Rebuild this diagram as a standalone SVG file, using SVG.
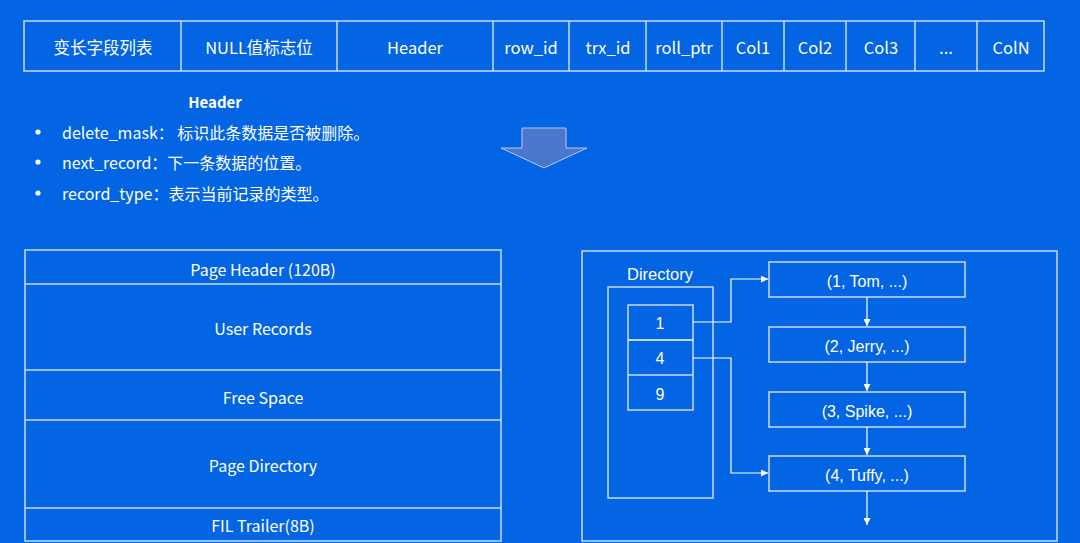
<svg xmlns="http://www.w3.org/2000/svg" width="1080" height="543" viewBox="0 0 1080 543">
<defs>
<style>
.bg{fill:#0364e4}
.box{fill:none;stroke:#c9dbf7;stroke-width:1.5}
.t{font-family:"Noto Sans CJK SC","Noto Sans",sans-serif;font-size:16px;fill:#ffffff;text-anchor:middle;dominant-baseline:central}
.top{font-size:16.5px}
.ta{font-family:"Liberation Sans",Arial,sans-serif;font-size:16px;fill:#ffffff;text-anchor:middle;dominant-baseline:central}
.tl{font-family:"Noto Sans CJK SC","Noto Sans",sans-serif;font-size:16px;fill:#ffffff;dominant-baseline:central}
.line{fill:none;stroke:#ffffff;stroke-width:1.2}
</style>
<marker id="ah" viewBox="0 0 10 10" refX="10" refY="5" markerWidth="7" markerHeight="7" orient="auto" markerUnits="userSpaceOnUse">
<path d="M0,0 L10,5 L0,10 z" fill="#ffffff"/>
</marker>
</defs>
<rect class="bg" x="0" y="0" width="1080" height="543"/>

<g id="row-format">
<rect class="box" x="24" y="21" width="1020" height="50"/>
<line class="box" x1="181" y1="21" x2="181" y2="71"/>
<line class="box" x1="337" y1="21" x2="337" y2="71"/>
<line class="box" x1="493" y1="21" x2="493" y2="71"/>
<line class="box" x1="569" y1="21" x2="569" y2="71"/>
<line class="box" x1="646" y1="21" x2="646" y2="71"/>
<line class="box" x1="722" y1="21" x2="722" y2="71"/>
<line class="box" x1="784" y1="21" x2="784" y2="71"/>
<line class="box" x1="846" y1="21" x2="846" y2="71"/>
<line class="box" x1="915" y1="21" x2="915" y2="71"/>
<line class="box" x1="977" y1="21" x2="977" y2="71"/>
<text class="t top" x="103" y="47">变长字段列表</text>
<text class="t top" x="259" y="47">NULL值标志位</text>
<text class="t top" x="415" y="47">Header</text>
<text class="t top" x="531" y="47">row_id</text>
<text class="t top" x="608" y="47">trx_id</text>
<text class="t top" x="684" y="47">roll_ptr</text>
<text class="t top" x="753" y="47">Col1</text>
<text class="t top" x="815" y="47">Col2</text>
<text class="t top" x="881" y="47">Col3</text>
<text class="t top" x="946" y="47">...</text>
<text class="t top" x="1011" y="47">ColN</text>
</g>

<g id="header-desc">
<text class="t" x="215" y="101" style="font-weight:bold;font-size:15px">Header</text>
<circle cx="38" cy="132" r="2.6" fill="#ffffff"/>
<circle cx="38" cy="162" r="2.6" fill="#ffffff"/>
<circle cx="38" cy="193" r="2.6" fill="#ffffff"/>
<text class="tl" x="62" y="132">delete_mask： 标识此条数据是否被删除。</text>
<text class="tl" x="62" y="162">next_record：下一条数据的位置。</text>
<text class="tl" x="62" y="193">record_type：表示当前记录的类型。</text>
</g>

<g id="down-arrow">
<polygon points="522,128 566,128 566,148 587,148 544,168 501,148 522,148" fill="#4a78cc" stroke="#b4c8ee" stroke-width="1"/>
</g>

<g id="page-layout">
<rect class="box" x="25" y="250" width="476" height="291"/>
<line class="box" x1="25" y1="284" x2="501" y2="284"/>
<line class="box" x1="25" y1="370" x2="501" y2="370"/>
<line class="box" x1="25" y1="420" x2="501" y2="420"/>
<line class="box" x1="25" y1="508" x2="501" y2="508"/>
<text class="t" x="263" y="269">Page Header (120B)</text>
<text class="t" x="263" y="328">User Records</text>
<text class="t" x="263" y="397">Free Space</text>
<text class="t" x="263" y="465">Page Directory</text>
<text class="t" x="263" y="525">FIL Trailer(8B)</text>
</g>

<g id="page-detail">
<rect class="box" x="582" y="251" width="475" height="290"/>
</g>

<g id="directory">
<text class="ta" x="660" y="274" style="font-size:16.5px">Directory</text>
<rect class="box" x="608" y="287" width="105" height="211"/>
<rect class="box" x="628" y="305" width="65" height="105"/>
<line x1="628" y1="340" x2="693" y2="340" stroke="#ffffff" stroke-width="1.5"/>
<line class="box" x1="628" y1="375" x2="693" y2="375"/>
<text class="ta" x="660" y="323">1</text>
<text class="ta" x="660" y="358">4</text>
<text class="ta" x="660" y="394">9</text>
</g>

<g id="rec1"><rect class="box" x="769" y="262" width="196" height="35"/><text class="ta" x="867" y="281">(1, Tom, ...)</text></g>
<g id="rec2"><rect class="box" x="769" y="327" width="196" height="35"/><text class="ta" x="867" y="346">(2, Jerry, ...)</text></g>
<g id="rec3"><rect class="box" x="769" y="392" width="196" height="35"/><text class="ta" x="867" y="411">(3, Spike, ...)</text></g>
<g id="rec4"><rect class="box" x="769" y="456" width="196" height="35"/><text class="ta" x="867" y="475">(4, Tuffy, ...)</text></g>

<g id="connectors">
<polyline class="line" points="693,322 731,322 731,279 768,279" marker-end="url(#ah)"/>
<polyline class="line" points="693,358 731,358 731,473 768,473" marker-end="url(#ah)"/>
<line class="line" x1="867" y1="297" x2="867" y2="326" marker-end="url(#ah)"/>
<line class="line" x1="867" y1="362" x2="867" y2="391" marker-end="url(#ah)"/>
<line class="line" x1="867" y1="427" x2="867" y2="455" marker-end="url(#ah)"/>
<line class="line" x1="867" y1="491" x2="867" y2="525" marker-end="url(#ah)"/>
</g>
</svg>
